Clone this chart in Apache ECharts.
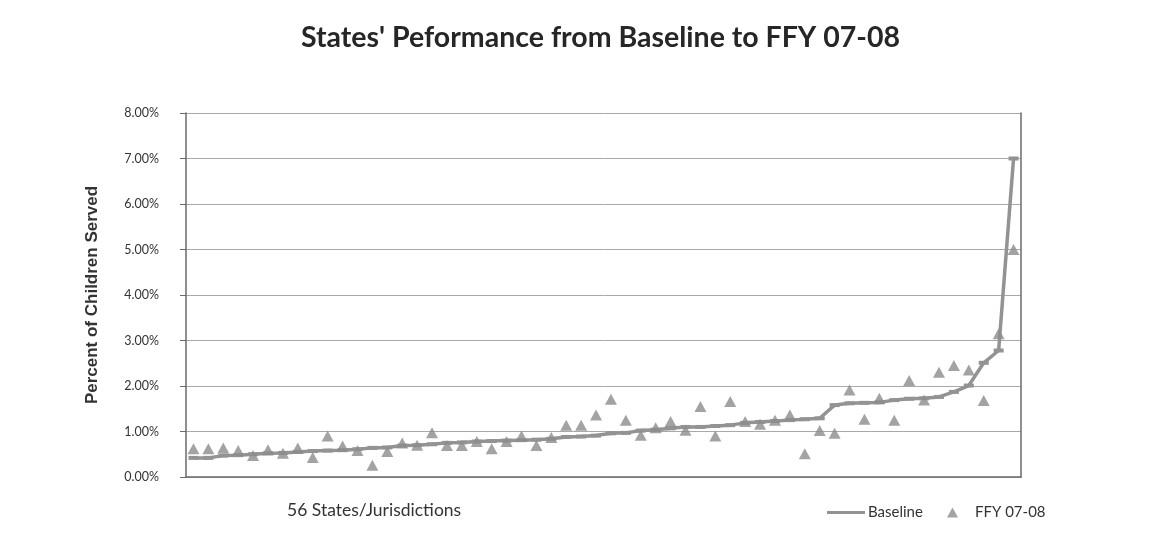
<!DOCTYPE html>
<html>
<head>
<meta charset="utf-8">
<script src="https://cdn.jsdelivr.net/npm/echarts@6/dist/echarts.min.js"></script>
<style>
  html, body { margin: 0; padding: 0; background: #ffffff; }
  #chart { width: 1158px; height: 540px; }
</style>
</head>
<body>
<div id="chart"></div>
<script>
// States / jurisdictions, ordered by baseline rate
const states = [
  '1','2','3','4','5','6','7','8','9','10','11','12','13','14',
  '15','16','17','18','19','20','21','22','23','24','25','26','27','28',
  '29','30','31','32','33','34','35','36','37','38','39','40','41','42',
  '43','44','45','46','47','48','49','50','51','52','53','54','55','56'
];

// Percent of children served at baseline
const baseline = [
  0.42, 0.42, 0.47, 0.48, 0.50, 0.52, 0.53, 0.55, 0.57, 0.58, 0.59, 0.61, 0.64, 0.65,
  0.69, 0.70, 0.72, 0.75, 0.76, 0.78, 0.79, 0.80, 0.81, 0.82, 0.84, 0.88, 0.89, 0.91,
  0.96, 0.97, 1.02, 1.04, 1.07, 1.10, 1.10, 1.12, 1.14, 1.19, 1.21, 1.23, 1.25, 1.27,
  1.29, 1.58, 1.62, 1.63, 1.64, 1.69, 1.72, 1.73, 1.76, 1.87, 2.01, 2.51, 2.78, 7.00
];

// Percent of children served in FFY 07-08
const ffy0708 = [
  0.62, 0.62, 0.64, 0.58, 0.47, 0.60, 0.52, 0.64, 0.43, 0.90, 0.68, 0.58, 0.26, 0.56,
  0.75, 0.70, 0.97, 0.69, 0.69, 0.78, 0.62, 0.78, 0.90, 0.69, 0.87, 1.14, 1.14, 1.36,
  1.71, 1.25, 0.92, 1.08, 1.22, 1.03, 1.55, 0.90, 1.66, 1.22, 1.16, 1.25, 1.36, 0.51,
  1.02, 0.96, 1.91, 1.27, 1.73, 1.25, 2.12, 1.69, 2.30, 2.45, 2.35, 1.68, 3.15, 5.00
];

// Value axis ticks (percent)
const yTicks = { min: 0, max: 8, step: 1 };

const markGray = '#8c8c8c';
const lineGray = '#939393';
const gridGray = '#a9a9a9';
const axisGray = '#6a6a6a';
const textGray = '#333333';

const chart = echarts.init(document.getElementById('chart'), null, { renderer: 'canvas' });

chart.setOption({
  backgroundColor: '#ffffff',
  animation: false,
  title: [
    {
      text: "States' Peformance from Baseline to FFY 07-08",
      left: 301,
      top: 23,
      padding: 0,
      textStyle: { fontFamily: 'Lato', fontWeight: 'bold', fontSize: 28.5, color: '#262626' }
    },
    {
      text: '56 States/Jurisdictions',
      left: 287,
      top: 501,
      padding: 0,
      textStyle: { fontFamily: 'Lato', fontWeight: 'normal', fontSize: 17.5, color: textGray }
    }
  ],
  legend: [
    {
      data: [{ name: 'Baseline', icon: 'rect' }],
      left: 827,
      top: 505,
      padding: 0,
      itemWidth: 38,
      itemHeight: 3,
      itemGap: 0,
      textStyle: { fontFamily: 'Lato', fontSize: 15, color: textGray, padding: [0, 0, 0, -2] }
    },
    {
      data: [{ name: 'FFY 07-08', icon: 'triangle' }],
      left: 947,
      top: 505,
      padding: 0,
      itemWidth: 11,
      itemHeight: 10,
      textStyle: { fontFamily: 'Lato', fontSize: 15, color: textGray, padding: [0, 0, 0, 12] }
    }
  ],
  grid: { left: 186, right: 137, top: 113, bottom: 63, containLabel: false },
  xAxis: {
    type: 'category',
    data: states,
    boundaryGap: true,
    axisLine: { show: true, lineStyle: { color: axisGray, width: 1.5 } },
    axisTick: { show: false },
    axisLabel: { show: false },
    splitLine: { show: false }
  },
  yAxis: [
    {
      type: 'value',
      min: yTicks.min,
      max: yTicks.max,
      interval: yTicks.step,
      name: 'Percent of Children Served',
      nameLocation: 'middle',
      nameGap: 85,
      nameTextStyle: { fontFamily: 'Liberation Sans', fontWeight: 'bold', fontSize: 17, color: textGray },
      axisLine: { show: true, lineStyle: { color: axisGray, width: 1.5 } },
      axisTick: { show: true, inside: false, length: 6, lineStyle: { color: axisGray } },
      axisLabel: {
        margin: 27,
        fontFamily: 'Lato',
        fontSize: 12.5,
        color: textGray,
        formatter: v => v.toFixed(2) + '%'
      },
      splitLine: { show: true, lineStyle: { color: gridGray, width: 1 } }
    },
    {
      type: 'value',
      position: 'right',
      min: yTicks.min,
      max: yTicks.max,
      interval: yTicks.step,
      axisLine: { show: true, lineStyle: { color: axisGray, width: 1.5 } },
      axisTick: { show: false },
      axisLabel: { show: false },
      splitLine: { show: false }
    }
  ],
  series: [
    {
      name: 'Baseline',
      type: 'line',
      data: baseline,
      yAxisIndex: 0,
      color: lineGray,
      lineStyle: { color: lineGray, width: 3.5 },
      symbol: 'rect',
      symbolSize: [10, 4],
      showAllSymbol: true,
      itemStyle: { color: lineGray },
      z: 2
    },
    {
      name: 'FFY 07-08',
      type: 'scatter',
      data: ffy0708,
      yAxisIndex: 0,
      color: markGray,
      symbol: 'triangle',
      symbolSize: [12, 11],
      itemStyle: { color: markGray },
      z: 3
    }
  ]
});
</script>
</body>
</html>
